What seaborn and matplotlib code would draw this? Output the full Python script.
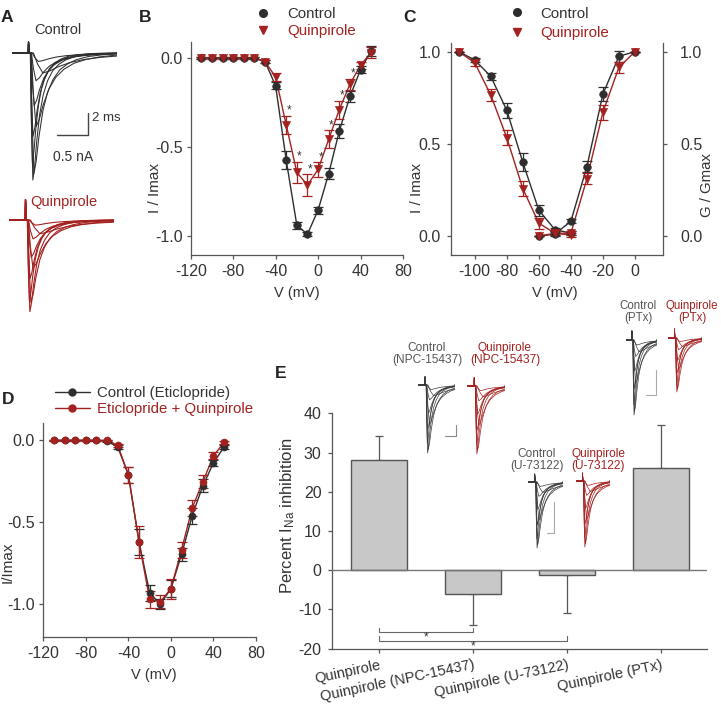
import numpy as np
import pandas as pd
import matplotlib
matplotlib.use("Agg")
import matplotlib.pyplot as plt
from matplotlib.lines import Line2D
from matplotlib.ticker import FormatStrFormatter
import seaborn as sns

# ---------------- data ----------------
iv_v = [-110, -100, -90, -80, -70, -60, -50, -40, -30, -20, -10, 0, 10, 20, 30, 40, 50]
# Panel B  (I/Imax, control vs quinpirole)
b_ctrl = [0.0, 0.0, 0.0, 0.0, 0.0, 0.0, -0.02, -0.156, -0.575, -0.94, -0.99, -0.855, -0.65, -0.41, -0.216, -0.066, 0.04]
b_ctrl_err = [0.005, 0.005, 0.005, 0.005, 0.005, 0.005, 0.01, 0.02, 0.05, 0.02, 0.01, 0.02, 0.03, 0.04, 0.03, 0.02, 0.03]
b_quin = [0.0, 0.0, 0.0, 0.0, 0.0, 0.0, -0.02, -0.107, -0.376, -0.643, -0.714, -0.626, -0.457, -0.29, -0.147, -0.04, 0.03]
b_quin_err = [0.005, 0.005, 0.005, 0.005, 0.005, 0.005, 0.01, 0.02, 0.05, 0.06, 0.06, 0.04, 0.05, 0.05, 0.03, 0.02, 0.03]
b_sig_v = [-30, -20, -10, 0, 10, 20, 30]

# Panel C  (inactivation I/Imax and activation G/Gmax)
c_v_inact = [-110, -100, -90, -80, -70, -60, -50, -40]
c_inact_ctrl = [1.0, 0.955, 0.866, 0.682, 0.40, 0.14, 0.035, 0.015]
c_inact_ctrl_err = [0.0, 0.01, 0.02, 0.04, 0.05, 0.03, 0.01, 0.01]
c_inact_quin = [1.0, 0.94, 0.765, 0.533, 0.257, 0.07, 0.015, 0.005]
c_inact_quin_err = [0.0, 0.02, 0.03, 0.04, 0.04, 0.03, 0.01, 0.01]
c_v_act = [-60, -50, -40, -30, -20, -10, 0]
c_act_ctrl = [0.0, 0.01, 0.08, 0.376, 0.77, 0.975, 1.0]
c_act_ctrl_err = [0.0, 0.01, 0.01, 0.03, 0.04, 0.03, 0.0]
c_act_quin = [0.0, 0.015, 0.015, 0.31, 0.672, 0.915, 1.0]
c_act_quin_err = [0.0, 0.01, 0.01, 0.03, 0.04, 0.03, 0.0]

# Panel D  (eticlopride)
d_ctrl = [0.0, 0.0, 0.0, 0.0, 0.0, -0.005, -0.04, -0.21, -0.62, -0.93, -1.0, -0.905, -0.695, -0.46, -0.277, -0.138, -0.04]
d_ctrl_err = [0.005, 0.005, 0.005, 0.005, 0.005, 0.005, 0.01, 0.05, 0.08, 0.05, 0.03, 0.05, 0.04, 0.05, 0.04, 0.02, 0.01]
d_quin = [0.0, 0.0, 0.0, 0.0, 0.0, 0.0, -0.03, -0.21, -0.62, -0.97, -0.985, -0.905, -0.668, -0.413, -0.253, -0.094, -0.012]
d_quin_err = [0.005, 0.005, 0.005, 0.005, 0.005, 0.005, 0.01, 0.05, 0.1, 0.05, 0.04, 0.06, 0.05, 0.05, 0.04, 0.02, 0.01]

# Panel E  (percent INa inhibition)
e_cats = ["Quinpirole", "Quinpirole (NPC-15437)", "Quinpirole (U-73122)", "Quinpirole (PTx)"]
e_vals = [28.2, -6.0, -1.1, 26.1]
e_err = [5.9, 8.0, 9.9, 10.9]
e_sig_pairs = [(0, 1), (0, 2)]

# Current traces (panel A and insets)
trace_v = [-40, -30, -20, -10, 0, 10, 20, 30, 40]
trace_stretch = [4.5, 2.2, 1.5, 1.15, 1.0, 1.2, 1.6, 2.2, 3.0]
tmpl_t = [0.0, 0.06, 0.12, 0.2, 0.3, 0.42, 0.6, 0.8, 1.05, 1.35, 1.7, 2.1, 2.6, 3.2, 3.9, 4.8, 5.8]
tmpl_i = [0.0, 0.0, -0.55, -1.0, -0.9, -0.7, -0.48, -0.33, -0.22, -0.14, -0.09, -0.055, -0.03, -0.016, -0.007, -0.002, 0.0]
inset_ratio = {"NPC": 1.0, "U": 1.0, "PTx": 0.72}

# ---------------- style ----------------
sns.set_theme(style="ticks")
plt.rcParams["font.family"] = ["Liberation Sans", "DejaVu Sans"]
plt.rcParams["mathtext.default"] = "regular"
plt.rcParams["axes.unicode_minus"] = False

DARK = "#2e2e2e"
RED = "#a3211f"
AXC = "#555555"
TXT = "#333333"
TICK_FS = 11.5
W, H = 721, 704
fig = plt.figure(figsize=(W / 100, H / 100), dpi=100)


def box(l, t, r, b):
    return [l / W, 1 - b / H, (r - l) / W, (b - t) / H]


def fx(x):
    return x / W


def fy(y):
    return 1 - y / H


def style_axes(ax, ypad=2.7, xpad=3.5):
    for s in ["top", "right"]:
        ax.spines[s].set_visible(False)
    for s in ["left", "bottom"]:
        ax.spines[s].set_color(AXC)
        ax.spines[s].set_linewidth(0.9)
    ax.tick_params(direction="out", length=3.2, width=0.9, color=AXC,
                   labelcolor=TXT, labelsize=TICK_FS)
    ax.tick_params(axis="y", pad=ypad)
    ax.tick_params(axis="x", pad=xpad)
    ax.set_xlabel("")
    ax.set_ylabel("")


def ftext(x, y, s, **kw):
    kw.setdefault("color", TXT)
    kw.setdefault("fontsize", 10.5)
    fig.text(fx(x), fy(y), s, **kw)


def fline(xs, ys, color=AXC, lw=0.9):
    fig.add_artist(Line2D([fx(v) for v in xs], [fy(v) for v in ys],
                          transform=fig.transFigure, color=color, lw=lw))


STIM = 1.1


def draw_family(ax, amps, color, lw, art_h, t_end):
    for a, s in zip(amps, trace_stretch):
        xs = [0.0, STIM - 0.02, STIM, STIM + 0.06] + [STIM + 0.06 + t * s for t in tmpl_t] + [t_end]
        ys = [0.0, 0.0, art_h, 0.0] + [a * i for i in tmpl_i] + [0.0]
        sns.lineplot(x=xs, y=ys, ax=ax, color=color, lw=lw, sort=False,
                     estimator=None, legend=False)
    ax.set_axis_off()


# ---------------- panel A ----------------
ctrl_amps = [-b_ctrl[iv_v.index(v)] for v in trace_v]
quin_amps = [-b_quin[iv_v.index(v)] for v in trace_v]
axA1 = fig.add_axes(box(12, 30, 117, 185))
draw_family(axA1, ctrl_amps, DARK, 0.75, 0.087, 7.0)
axA1.set_xlim(0, 7)
axA1.set_ylim(-1.029, 0.179)
axA2 = fig.add_axes(box(9, 190, 114, 315))
draw_family(axA2, quin_amps, RED, 0.8, 0.16, 7.0)
axA2.set_xlim(0, 7)
axA2.set_ylim(-0.740, 0.234)
ftext(58, 30, "Control", ha="center", va="center")
ftext(64, 202, "Quinpirole", ha="center", va="center", color=RED)
fline([88, 88, 57], [113, 135, 135], color="#444444", lw=1.0)
ftext(92, 118, "2 ms", ha="left", va="center", fontsize=9.5)
ftext(73, 157, "0.5 nA", ha="center", va="center", fontsize=10)

# ---------------- panel B ----------------
axB = fig.add_axes(box(190.7, 42, 403, 255))
sns.lineplot(x=iv_v, y=b_ctrl, color=DARK, lw=1.0, ax=axB)
sns.lineplot(x=iv_v, y=b_quin, color=RED, lw=1.0, ax=axB)
axB.errorbar(iv_v, b_ctrl, yerr=b_ctrl_err, fmt="none", ecolor=DARK, elinewidth=0.9, capsize=3.5, capthick=0.9)
axB.errorbar(iv_v, b_quin, yerr=b_quin_err, fmt="none", ecolor=RED, elinewidth=0.9, capsize=3.5, capthick=0.9)
sns.scatterplot(x=iv_v, y=b_ctrl, marker="o", s=30, color=DARK, edgecolor=DARK, ax=axB, zorder=3)
sns.scatterplot(x=iv_v, y=b_quin, marker="v", s=34, color=RED, edgecolor=RED, ax=axB, zorder=3)
for v in b_sig_v:
    k = iv_v.index(v)
    axB.text(v + 2.5, b_quin[k] + b_quin_err[k] + 0.03, "*", ha="center", va="center", fontsize=8.5, color=TXT)
axB.set_xlim(-120, 80)
axB.set_ylim(-1.107, 0.09)
axB.set_xticks([-120, -80, -40, 0, 40, 80])
axB.set_yticks([-1.0, -0.5, 0.0])
axB.yaxis.set_major_formatter(FormatStrFormatter("%.1f"))
style_axes(axB)
hB = [Line2D([], [], marker="o", ls="", color=DARK, ms=5.5),
      Line2D([], [], marker="v", ls="", color=RED, ms=5.5)]
legB = axB.legend(hB, ["Control", "Quinpirole"], loc="upper left", bbox_to_anchor=(fx(255.5), fy(7.5)),
                  bbox_transform=fig.transFigure, frameon=False, fontsize=10.8, handlelength=1.0,
                  handletextpad=1.1, labelspacing=0.2, borderpad=0, borderaxespad=0)
legB.get_texts()[0].set_color(TXT)
legB.get_texts()[1].set_color(RED)
ftext(155, 188, "I / Imax", rotation=90, ha="center", va="center", fontsize=11)
ftext(297, 293, "V (mV)", ha="center", va="center")

# ---------------- panel C ----------------
axC = fig.add_axes(box(450.7, 43, 663, 255))
sns.lineplot(x=c_v_inact, y=c_inact_ctrl, color=DARK, lw=1.0, ax=axC)
sns.lineplot(x=c_v_inact, y=c_inact_quin, color=RED, lw=1.0, ax=axC)
sns.lineplot(x=c_v_act, y=c_act_ctrl, color=DARK, lw=1.0, ax=axC)
sns.lineplot(x=c_v_act, y=c_act_quin, color=RED, lw=1.0, ax=axC)
for xv, yv, ev, col in [(c_v_inact, c_inact_ctrl, c_inact_ctrl_err, DARK),
                        (c_v_inact, c_inact_quin, c_inact_quin_err, RED),
                        (c_v_act, c_act_ctrl, c_act_ctrl_err, DARK),
                        (c_v_act, c_act_quin, c_act_quin_err, RED)]:
    axC.errorbar(xv, yv, yerr=ev, fmt="none", ecolor=col, elinewidth=0.9, capsize=3.5, capthick=0.9)
sns.scatterplot(x=c_v_inact, y=c_inact_ctrl, marker="o", s=30, color=DARK, edgecolor=DARK, ax=axC, zorder=3)
sns.scatterplot(x=c_v_act, y=c_act_ctrl, marker="o", s=30, color=DARK, edgecolor=DARK, ax=axC, zorder=3)
sns.scatterplot(x=c_v_inact, y=c_inact_quin, marker="v", s=34, color=RED, edgecolor=RED, ax=axC, zorder=3)
sns.scatterplot(x=c_v_act, y=c_act_quin, marker="v", s=34, color=RED, edgecolor=RED, ax=axC, zorder=3)
axC.set_xlim(-115, 17.5)
axC.set_ylim(-0.103, 1.047)
axC.set_xticks([-100, -80, -60, -40, -20, 0])
axC.set_yticks([0.0, 0.5, 1.0])
axC.yaxis.set_major_formatter(FormatStrFormatter("%.1f"))
style_axes(axC, ypad=4)
axC2 = axC.twinx()
axC2.set_ylim(-0.103, 1.047)
axC2.set_yticks([0.0, 0.5, 1.0])
axC2.yaxis.set_major_formatter(FormatStrFormatter("%.1f"))
for s in ["top", "left", "bottom"]:
    axC2.spines[s].set_visible(False)
axC2.spines["right"].set_color(AXC)
axC2.spines["right"].set_linewidth(0.9)
axC2.tick_params(direction="out", length=3.2, width=0.9, color=AXC, labelcolor=TXT,
                 labelsize=TICK_FS, pad=9)
legC = axC.legend(hB, ["Control", "Quinpirole"], loc="upper left", bbox_to_anchor=(fx(509), fy(6.5)),
                  bbox_transform=fig.transFigure, frameon=False, fontsize=10.8, handlelength=1.0,
                  handletextpad=1.1, labelspacing=0.35, borderpad=0, borderaxespad=0)
legC.get_texts()[0].set_color(TXT)
legC.get_texts()[1].set_color(RED)
ftext(417, 188, "I / Imax", rotation=90, ha="center", va="center", fontsize=11)
ftext(707, 185, "G / Gmax", rotation=90, ha="center", va="center", fontsize=10.8)
ftext(555, 293, "V (mV)", ha="center", va="center")

# ---------------- panel D ----------------
axD = fig.add_axes(box(43.3, 423, 256, 636.7))
sns.lineplot(x=iv_v, y=d_ctrl, color=DARK, lw=1.0, ax=axD)
sns.lineplot(x=iv_v, y=d_quin, color=RED, lw=1.0, ax=axD)
axD.errorbar(iv_v, d_ctrl, yerr=d_ctrl_err, fmt="none", ecolor=DARK, elinewidth=0.9, capsize=3.5, capthick=0.9)
axD.errorbar(iv_v, d_quin, yerr=d_quin_err, fmt="none", ecolor=RED, elinewidth=0.9, capsize=3.5, capthick=0.9)
sns.scatterplot(x=iv_v, y=d_ctrl, marker="o", s=26, color=DARK, edgecolor=DARK, ax=axD, zorder=3)
sns.scatterplot(x=iv_v, y=d_quin, marker="o", s=26, color=RED, edgecolor=RED, ax=axD, zorder=3)
axD.set_xlim(-120, 80)
axD.set_ylim(-1.198, 0.106)
axD.set_xticks([-120, -80, -40, 0, 40, 80])
axD.set_yticks([-1.0, -0.5, 0.0])
axD.yaxis.set_major_formatter(FormatStrFormatter("%.1f"))
style_axes(axD)
hD = [Line2D([], [], marker="o", color=DARK, ms=5, lw=1.0),
      Line2D([], [], marker="o", color=RED, ms=5, lw=1.0)]
legD = axD.legend(hD, ["Control (Eticlopride)", "Eticlopride + Quinpirole"], loc="upper left",
                  bbox_to_anchor=(fx(55), fy(386.5)), bbox_transform=fig.transFigure, frameon=False,
                  fontsize=10.8, handlelength=2.33, handletextpad=0.5, labelspacing=0.12,
                  borderpad=0, borderaxespad=0)
legD.get_texts()[0].set_color(TXT)
legD.get_texts()[1].set_color(RED)
ftext(8, 562, "I/Imax", rotation=90, ha="center", va="center", fontsize=11)
ftext(154, 675, "V (mV)", ha="center", va="center")

# ---------------- panel E ----------------
axE = fig.add_axes(box(331.7, 413.3, 707, 648.7))
sns.barplot(x=e_cats, y=e_vals, color="#c8c8c8", saturation=1, edgecolor="#555555",
            linewidth=1.0, width=0.6, errorbar=None, ax=axE, zorder=2)
lo = [e if v < 0 else 0 for v, e in zip(e_vals, e_err)]
hi = [e if v >= 0 else 0 for v, e in zip(e_vals, e_err)]
axE.errorbar(range(len(e_vals)), e_vals, yerr=[lo, hi], fmt="none", ecolor="#555555",
             elinewidth=0.9, capsize=3, capthick=0.9, zorder=1)
axE.axhline(0, color="#777777", lw=1.0, zorder=3)
for j, (a, b) in enumerate(e_sig_pairs):
    ybr = -15.8 - 2.2 * j
    axE.plot([a, a, b, b], [ybr + 1.2, ybr, ybr, ybr + 1.2], color="#666666", lw=0.8)
    axE.text((a + b) / 2, ybr - 1.4, "*", ha="center", va="center", fontsize=8.5, color=TXT)
axE.set_xlim(-0.5, 3.49)
axE.set_ylim(-20, 40)
axE.set_yticks([-20, -10, 0, 10, 20, 30, 40])
style_axes(axE, ypad=4)
axE.set_xticks(range(len(e_cats)))
axE.set_xticklabels(e_cats, rotation=12, ha="right", rotation_mode="anchor", fontsize=10.5)
ftext(288, 516, "Percent I$_{Na}$ inhibitioin", rotation=90, ha="center", va="center", fontsize=12)

# insets in E
ctrl_norm = [a / max(ctrl_amps) for a in ctrl_amps]


def inset_pair(lc, rc, base_c, peak_c, lq, rq, base_q, ratio):
    unit = peak_c - base_c
    a1 = fig.add_axes(box(lc, base_c - 0.2 * unit, rc, base_c + 1.05 * unit))
    draw_family(a1, ctrl_norm, "#3a3a3a", 0.5, 0.12, 4.5)
    a1.set_xlim(0.3, 4.5)
    a1.set_ylim(-1.05, 0.2)
    a2 = fig.add_axes(box(lq, base_q - 0.2 * unit, rq, base_q + 1.05 * unit))
    draw_family(a2, [c * ratio for c in ctrl_norm], RED, 0.5, 0.12, 4.5)
    a2.set_xlim(0.3, 4.5)
    a2.set_ylim(-1.05, 0.2)


inset_pair(418, 455, 385, 453, 467, 505, 386, inset_ratio["NPC"])
inset_pair(528, 563, 482, 548, 576, 610, 481, inset_ratio["U"])
inset_pair(626, 657, 340, 415, 668, 702, 338, inset_ratio["PTx"])

fline([456, 456, 445], [425, 436, 436], color="#888888", lw=0.8)
fline([554, 554, 547], [502, 533, 533], color="#aaaaaa", lw=0.8)
fline([656, 656, 646], [370, 395, 395], color="#aaaaaa", lw=0.8)

INS_FS = 8.6
ftext(427, 354, "Control\n(NPC-15437)", ha="center", va="center", fontsize=INS_FS, color="#555555", linespacing=1.05)
ftext(505, 354, "Quinpirole\n(NPC-15437)", ha="center", va="center", fontsize=INS_FS, color=RED, linespacing=1.05)
ftext(537, 460, "Control\n(U-73122)", ha="center", va="center", fontsize=INS_FS, color="#555555", linespacing=1.05)
ftext(598, 460, "Quinpirole\n(U-73122)", ha="center", va="center", fontsize=INS_FS, color=RED, linespacing=1.05)
ftext(638, 312, "Control\n(PTx)", ha="center", va="center", fontsize=8.3, color="#555555", linespacing=1.05)
ftext(692, 312, "Quinpirole\n(PTx)", ha="center", va="center", fontsize=8.3, color=RED, linespacing=1.05)

# panel letters
for lab, x, y in [("A", 7, 18), ("B", 145, 18), ("C", 410, 18), ("D", 8, 399), ("E", 281, 373)]:
    ftext(x, y, lab, ha="center", va="center", fontsize=12.5, fontweight="bold", color="#222222")

fig.savefig("out.png", dpi=100)
